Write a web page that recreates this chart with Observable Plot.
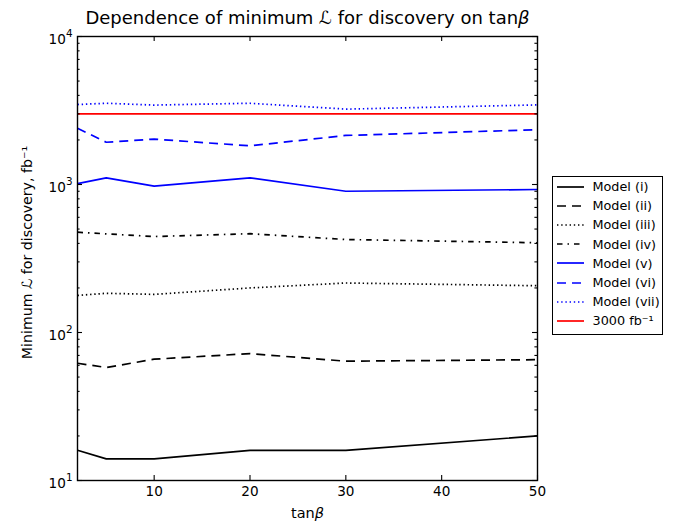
<!DOCTYPE html>
<html><head><meta charset="utf-8">
<script src="https://cdn.jsdelivr.net/npm/d3@7"></script>
<script src="https://cdn.jsdelivr.net/npm/@observablehq/plot@0.6"></script>
<style>
body{margin:0;background:#fff;}
#wrap{position:relative;width:675px;height:521px;font-family:"DejaVu Sans",sans-serif;background:#fff;}
#legend{position:absolute;left:552px;top:176px;width:111px;height:159px;border:1.2px solid #000;background:#fff;box-sizing:border-box;padding:0 0 0 3.5px;}
.row{display:flex;align-items:center;height:19.2px;font-size:12.8px;white-space:nowrap;}
.row svg{margin-right:9px;flex:none;}
</style></head><body><div id="wrap"></div>
<script>
// ---- data ----
const tanBeta = [2, 5, 10, 20, 30, 50];
const modelI   = [16, 14, 14, 16, 16, 20];
const modelII  = [62, 58, 66, 72, 64, 65.5];
const modelIII = [178, 184, 181, 200, 216, 207];
const modelIV  = [476, 464, 445, 465, 425, 404];
const modelV   = [1015, 1110, 975, 1110, 900, 925];
const modelVI  = [2400, 1930, 2025, 1825, 2145, 2345];
const modelVII = [3470, 3540, 3440, 3540, 3230, 3450];
const seriesNames = ["Model (i)", "Model (ii)", "Model (iii)", "Model (iv)", "Model (v)", "Model (vi)", "Model (vii)"];
const limitValue = 3000;
const limitLabel = "3000 fb\u207B\u00B9";
const xTicks = [10, 20, 30, 40, 50];
const yTicks = [10, 100, 1000, 10000];
const yTickLabels = ["10^1", "10^2", "10^3", "10^4"];
const titleText = "Dependence of minimum \u2112 for discovery on tan\u03B2";
const xLabel = "tan\u03B2";
const yLabel = "Minimum \u2112 for discovery, fb\u207B\u00B9";

// ---- styles ----
const seriesValues = [modelI, modelII, modelIII, modelIV, modelV, modelVI, modelVII];
const seriesColors = ["#000", "#000", "#000", "#000", "#0000ff", "#0000ff", "#0000ff"];
const seriesDash = [null, "9,6", "1.4,2.8", "5.5,5,1.5,5", null, "9,6", "1.4,2.8"];
const limitColor = "#ff0000";
const LW = 1.7;

const rows = seriesValues.map((vals, s) => tanBeta.map((t, i) => ({x: t, y: vals[i], s})));
const minorY = [10, 100, 1000].flatMap(d => [2,3,4,5,6,7,8,9].map(k => k * d));
const fmtY = d => yTickLabels[yTicks.indexOf(d)];

const marks = [];
rows.forEach((r, s) => {
  const o = {x: "x", y: "y", stroke: seriesColors[s], strokeWidth: LW, strokeLinecap: "butt", strokeLinejoin: "round"};
  if (seriesDash[s]) o.strokeDasharray = seriesDash[s];
  marks.push(Plot.line(r, o));
});
marks.push(Plot.ruleY([limitValue], {stroke: limitColor, strokeWidth: LW}));
// ticks (inward, both sides)
const T = 5, t = 2.6, tw = 1.1;
marks.push(Plot.ruleX(xTicks, {x: d => d, y1: 10, y2: 10, insetTop: 0, insetBottom: T, stroke: "#000", strokeWidth: tw}));
marks.push(Plot.ruleX(xTicks, {x: d => d, y1: 10000, y2: 10000, insetTop: 0, insetBottom: -T, stroke: "#000", strokeWidth: tw}));
marks.push(Plot.ruleY(yTicks, {y: d => d, x1: 2, x2: 2, insetLeft: 0, insetRight: -T, stroke: "#000", strokeWidth: tw}));
marks.push(Plot.ruleY(yTicks, {y: d => d, x1: 50, x2: 50, insetLeft: -T, insetRight: 0, stroke: "#000", strokeWidth: tw}));
marks.push(Plot.ruleY(minorY, {y: d => d, x1: 2, x2: 2, insetLeft: 0, insetRight: -t, stroke: "#000", strokeWidth: tw}));
marks.push(Plot.ruleY(minorY, {y: d => d, x1: 50, x2: 50, insetLeft: -t, insetRight: 0, stroke: "#000", strokeWidth: tw}));
marks.push(Plot.frame({stroke: "#000", strokeWidth: 1.4}));
marks.push(Plot.axisX(xTicks, {tickSize: 0, tickPadding: 5.5, label: null, fontSize: 13.6}));
marks.push(Plot.axisY(yTicks, {tickSize: 0, tickPadding: 5, dy: 3.5, tickFormat: fmtY, label: null, fontSize: 13.6}));
marks.push(Plot.text([titleText], {text: d => d, frameAnchor: "top", lineAnchor: "middle", textAnchor: "middle", dy: -18.5, fontSize: 18}));
marks.push(Plot.text([xLabel], {text: d => d, frameAnchor: "bottom", lineAnchor: "middle", textAnchor: "middle", dy: 33, fontSize: 14.5}));
marks.push(Plot.text([yLabel], {text: d => d, frameAnchor: "left", lineAnchor: "middle", textAnchor: "middle", dx: -50, dy: -6, rotate: -90, fontSize: 14.2}));

const chart = Plot.plot({
  width: 675, height: 521,
  marginLeft: 77, marginRight: 138, marginTop: 36, marginBottom: 41,
  style: {fontFamily: "DejaVu Sans, sans-serif", background: "white", color: "black", overflow: "visible"},
  x: {domain: [2, 50]},
  y: {type: "log", domain: [10, 10000]},
  marks
});
document.getElementById("wrap").appendChild(chart);

// y tick labels as base + raised exponent (matplotlib style)
d3.select(chart).selectAll("text").each(function() {
  const s = this.textContent;
  if (/^10\^\d$/.test(s)) {
    const [base, exp] = s.split("^");
    const el = d3.select(this);
    el.text(null);
    el.append("tspan").text(base);
    el.append("tspan").attr("font-size", 10.4).attr("dy", -7.2).text(exp);
  }
});
// italic beta like matplotlib mathtext
d3.select(chart).selectAll("text").each(function() {
  const el = d3.select(this);
  if (this.querySelector("tspan")) return;
  const s = this.textContent;
  if (s.includes("\u03B2")) {
    const parts = s.split("\u03B2");
    el.text(null);
    el.append("tspan").text(parts[0]);
    el.append("tspan").attr("font-style", "italic").text("\u03B2");
    if (parts[1]) el.append("tspan").text(parts[1]);
  }
});

// legend
const legend = document.createElement("div");
legend.id = "legend";
const entries = seriesNames.map((n, i) => ({name: n, color: seriesColors[i], dash: seriesDash[i]}))
  .concat([{name: limitLabel, color: limitColor, dash: null}]);
entries.forEach(e => {
  const row = document.createElement("div");
  row.className = "row";
  const ns = "http://www.w3.org/2000/svg";
  const sv = document.createElementNS(ns, "svg");
  sv.setAttribute("width", 27); sv.setAttribute("height", 6);
  const ln = document.createElementNS(ns, "line");
  ln.setAttribute("x1", 0); ln.setAttribute("x2", 27); ln.setAttribute("y1", 3); ln.setAttribute("y2", 3);
  ln.setAttribute("stroke", e.color); ln.setAttribute("stroke-width", LW);
  if (e.dash) ln.setAttribute("stroke-dasharray", e.dash);
  sv.appendChild(ln);
  row.appendChild(sv);
  const sp = document.createElement("span");
  sp.textContent = e.name;
  row.appendChild(sp);
  legend.appendChild(row);
});
document.getElementById("wrap").appendChild(legend);
</script></body></html>
